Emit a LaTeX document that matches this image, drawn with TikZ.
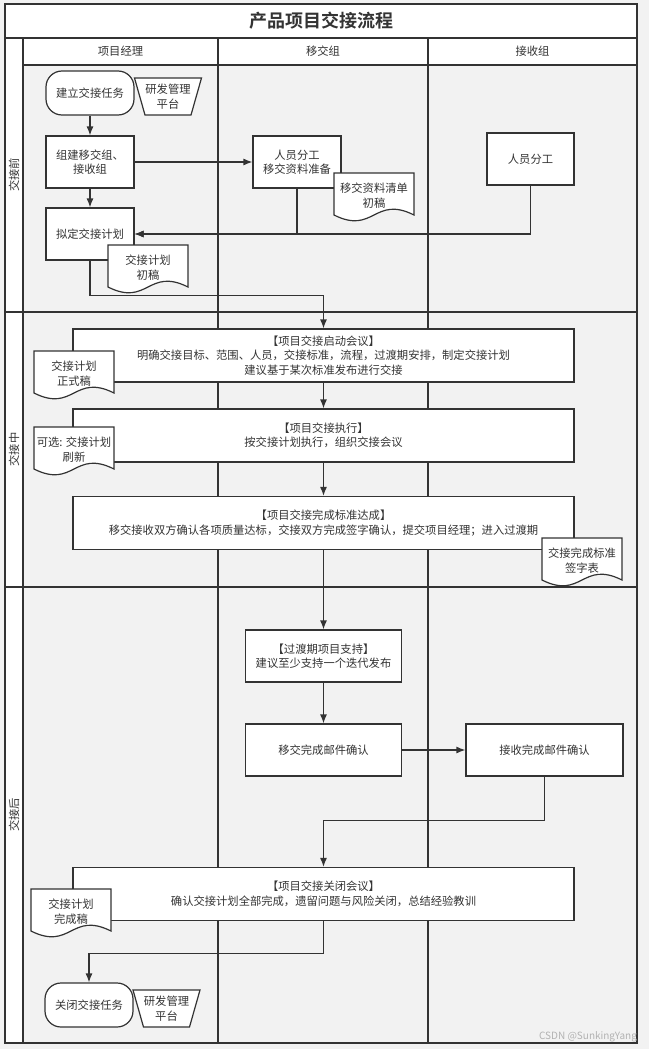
\documentclass[tikz,border=0pt]{standalone}
\usepackage{fontspec}
\setmainfont{Noto Sans CJK SC}[BoldFont={Noto Sans CJK SC Bold}]
\usetikzlibrary{arrows.meta,calc}
\definecolor{linec}{HTML}{333333}
\definecolor{lanec}{HTML}{F2F2F2}
\tikzset{>={Latex[length=9pt,width=7pt]}}
\tikzset{
  every node/.style={font=\fontsize{11.3}{14.5}\selectfont, text=linec},
  shapeline/.style={draw=linec, line width=1.2pt, fill=white},
  box/.style={shapeline, align=center, inner sep=2pt},
  process/.style={box, minimum width=88pt, minimum height=52pt},
  wide/.style={box, minimum width=501pt, minimum height=53pt},
  terminal/.style={box, rounded corners=16pt, minimum width=88pt, minimum height=44pt},
  link/.style={draw=linec, line width=1.2pt, ->},
  lane/.style={draw=linec, line width=1.3pt},
  phase/.style={draw=linec, line width=2pt},
}
% document shape: name, top-left x, top-left y, text
\newcommand{\docbox}[4]{%
  \begin{scope}[shift={(#2,#3)}]
    \draw[shapeline] (0,0) -- (80,0) -- (80,42) .. controls (40,22) and (40,62) .. (0,42) -- cycle;
    \node[align=center] (#1) at (40,22.5) {#4};
  \end{scope}}
% manual operation shape: name, top-left x, top-left y, text
\newcommand{\manualop}[4]{%
  \begin{scope}[shift={(#2,#3)}]
    \draw[shapeline] (0,0) -- (67,0) -- (56.5,37) -- (10.5,37) -- cycle;
    \node[align=center] (#1) at (33.5,18.5) {#4};
  \end{scope}}

\begin{document}
\begin{tikzpicture}[x=1pt, y=-1pt]
  \useasboundingbox (0,0) rectangle (649,1049);
  \fill[lanec] (0,0) rectangle (649,1049);
  % Pool
  \fill[white] (5,4) rectangle (637,65);
  \fill[white] (5,65) rectangle (23,1043);
  \node[font=\fontsize{18}{22}\selectfont\bfseries] (title) at (321,21) {产品项目交接流程};
  \node (pm) at (120.5,51.5) {项目经理};
  \node (tx) at (323,51.5) {移交组};
  \node (rx) at (532.5,51.5) {接收组};
  \node[rotate=90] (before) at (14,175) {交接前};
  \node[rotate=90] (during) at (14,449.5) {交接中};
  \node[rotate=90] (after) at (14,815) {交接后};
  % Lanes
  \draw[lane] (5,38) -- (637,38);
  \draw[lane] (23,65) -- (637,65);
  \draw[lane] (23,38) -- (23,1043);
  \draw[lane] (218,38) -- (218,1043);
  \draw[lane] (428,38) -- (428,1043);
  \draw[phase] (5,312) -- (637,312);
  \draw[phase] (5,587) -- (637,587);
  \draw[phase] (5,4) rectangle (637,1043);

  % Before
  \node[terminal] (start) at (90,93) {建立交接任务};
  \manualop{plat1}{134.5}{78}{研发管理\\平台}
  \node[process] (org) at (90,162) {组建移交组、\\接收组};
  \node[process] (plan) at (90,234) {拟定交接计划};
  \docbox{draft}{108}{245}{交接计划\\初稿}
  \node[process] (prep) at (297,162) {人员分工\\移交资料准备};
  \docbox{list}{334}{173}{移交资料清单\\初稿}
  \node[process, minimum width=87pt] (staff) at (530.5,159) {人员分工};

  % During
  \node[wide] (kick) at (323.5,355.5) {【项目交接启动会议】\\明确交接目标、范围、人员，交接标准，流程，过渡期安排，制定交接计划\\建议基于某次标准发布进行交接};
  \docbox{formal}{34}{351}{交接计划\\正式稿}
  \node[wide] (exec) at (323.5,435.5) {【项目交接执行】\\按交接计划执行，组织交接会议};
  \docbox{refresh}{34}{427}{可选: 交接计划\\刷新}
  \node[wide] (done) at (323.5,523) {【项目交接完成标准达成】\\移交接收双方确认各项质量达标，交接双方完成签字确认，提交项目经理；进入过渡期};
  \docbox{sign}{542}{538}{交接完成标准\\签字表}

  % After
  \node[process, minimum width=156pt] (support) at (323.5,656) {【过渡期项目支持】\\建议至少支持一个迭代发布};
  \node[process, minimum width=156pt] (mailtx) at (323.5,750) {移交完成邮件确认};
  \node[process, minimum width=157pt] (mailrx) at (544.5,750) {接收完成邮件确认};
  \node[wide] (close) at (323.5,894) {【项目交接关闭会议】\\确认交接计划全部完成，遗留问题与风险关闭，总结经验教训};
  \docbox{final}{31}{889}{交接计划\\完成稿}
  \node[terminal] (finish) at (89,1005) {关闭交接任务};
  \manualop{plat2}{133}{990}{研发管理\\平台}

  % Links
  \draw[link] (start) -- (org);
  \draw[link] (org) -- (plan);
  \draw[link] (org) -- (prep);
  \draw[link] (prep.south) |- (plan.east);
  \draw[link] (staff.south) |- (plan.east);
  \draw[link] (plan.south) -- ++(0,35) -| (kick.north);
  \draw[link] (kick) -- (exec);
  \draw[link] (exec) -- (done);
  \draw[link] (done) -- (support);
  \draw[link] (support) -- (mailtx);
  \draw[link] (mailtx) -- (mailrx);
  \draw[link] (mailrx.south) -- ++(0,44) -| (close.north);
  \draw[link] (close.south) -- ++(0,32) -| (finish.north);

  \node[font=\fontsize{10}{11}\selectfont, text=gray!60] (mark) at (588,1037) {CSDN @SunkingYang};
\end{tikzpicture}
\end{document}
